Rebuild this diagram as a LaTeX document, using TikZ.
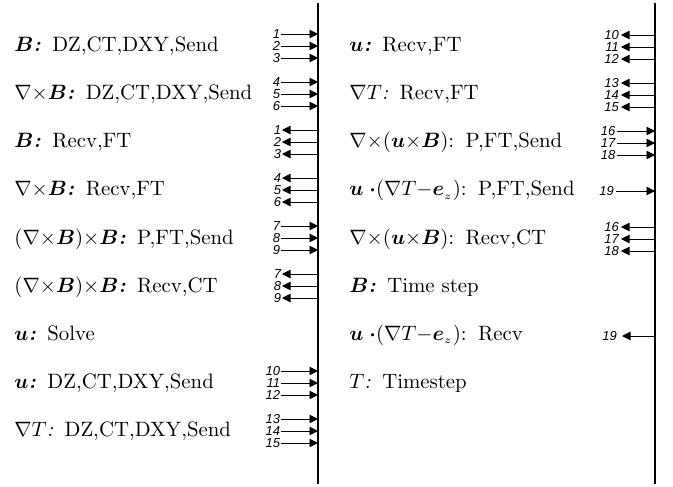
\documentclass[tikz,border=0pt]{standalone}
\usepackage{amsmath}
\usepackage{bm}
\usepackage{fontspec}
\newfontfamily\numfont{Liberation Sans}
\usetikzlibrary{arrows.meta}

% colon after a bold field name, and the gap before the step list
\newcommand\bcol{\textbf{\textit{:}}}
\newcommand\gap{\hspace{0.55em}}
\newcommand\ugrad{$\bm{u}\;{\bm\cdot}(\nabla T{-}\bm{e}_{\scriptscriptstyle z})$:}
\newcommand\curluB{$\nabla{\times}(\bm{u}{\times}\bm{B})$:}
\newcommand\jxB{$(\nabla{\times}\bm{B}){\times}\bm{B}$\bcol}

\begin{document}
\begin{tikzpicture}[x=1pt,y=-1pt,
  txt/.style={anchor=base west,inner sep=0pt,scale=2.08,font=\fontsize{10}{12}\selectfont},
  num/.style={anchor=east,inner sep=0.8pt,font=\numfont\itshape\fontsize{13}{14}\selectfont},
  arr/.style={line width=0.9pt,-{Triangle[length=8.5pt,width=8.5pt]}},
  bar/.style={line width=1.8pt}]
\useasboundingbox (0,0) rectangle (673,487);

% the two process time lines
\coordinate (Ltop) at (318,3);
\coordinate (Lbot) at (318,484);
\coordinate (Rtop) at (655,3);
\coordinate (Rbot) at (655,484);
\draw[bar] (Ltop) -- (Lbot);
\draw[bar,line width=1.5pt] (Rtop) -- (Rbot);

% left column of steps
\node[txt] (l1) at (14,52)  {$\bm{B}$\bcol\gap DZ,CT,DXY,Send};
\node[txt] (l2) at (14,100) {$\nabla{\times}\bm{B}$\bcol\gap DZ,CT,DXY,Send};
\node[txt] (l3) at (14,148) {$\bm{B}$\bcol\gap Recv,FT};
\node[txt] (l4) at (14,196) {$\nabla{\times}\bm{B}$\bcol\gap Recv,FT};
\node[txt] (l5) at (14,244) {\jxB\gap P,FT,Send};
\node[txt] (l6) at (14,292) {\jxB\gap Recv,CT};
\node[txt] (l7) at (14,340) {$\bm{u}$\bcol\gap Solve};
\node[txt] (l8) at (14,388) {$\bm{u}$\bcol\gap DZ,CT,DXY,Send};
\node[txt] (l9) at (14,436) {$\nabla T$\textit{:}\gap DZ,CT,DXY,Send};

% right column of steps
\node[txt] (r1) at (349,52)  {$\bm{u}$\bcol\gap Recv,FT};
\node[txt] (r2) at (349,100) {$\nabla T$\textit{:}\gap Recv,FT};
\node[txt] (r3) at (349,148) {\curluB\gap P,FT,Send};
\node[txt] (r4) at (349,196) {\ugrad\gap P,FT,Send};
\node[txt] (r5) at (349,244) {\curluB\gap Recv,CT};
\node[txt] (r6) at (349,292) {$\bm{B}$\bcol\gap Time step};
\node[txt] (r7) at (349,340) {\ugrad\gap Recv};
\node[txt] (r8) at (349,388) {$T$\textit{:}\gap Timestep};

% left: messages sent to the time line
\foreach \n/\y/\k in {1/34/a,2/46/b,3/58/c,4/82/d,5/94/e,6/106/f,
                      7/226/g,8/238/h,9/250/i,10/371/j,11/383/k,12/395/l,
                      13/419/m,14/431/n,15/443/o}{
  \node[num] (ls\k) at (281,\y) {\n};
  \coordinate (lsh\k) at (318,\y);
  \draw[arr] (ls\k) -- (lsh\k);
}
% left: messages received from the time line
\foreach \n/\y/\k in {1/130/a,2/142/b,3/154/c,4/178/d,5/190/e,6/202/f,
                      7/274/g,8/286/h,9/298/i}{
  \node[num] (lr\k) at (282,\y) {\n};
  \coordinate (lrh\k) at (318,\y);
  \draw[arr] (lrh\k) -- (lr\k);
}
% right: messages received from the time line
\foreach \n/\y/\k in {10/35/a,11/47/b,12/59/c,13/83/d,14/95/e,15/107/f,
                      16/227/g,17/239/h,18/251/i}{
  \node[num,inner sep=2pt] (rr\k) at (621,\y) {\n};
  \coordinate (rrh\k) at (655,\y);
  \draw[arr] (rrh\k) -- (rr\k);
}
% right: messages sent to the time line
\foreach \n/\y/\k in {16/131/a,17/143/b,18/155/c}{
  \node[num,inner sep=1.5pt] (rs\k) at (617,\y) {\n};
  \coordinate (rsh\k) at (655,\y);
  \draw[arr] (rs\k) -- (rsh\k);
}
\node[num,inner sep=2pt] (rs19) at (616,191) {19};
\coordinate (rsh19) at (655,191);
\draw[arr] (rs19) -- (rsh19);
\node[num,inner sep=5pt] (rr19) at (622,336) {19};
\coordinate (rrh19) at (655,336);
\draw[arr] (rrh19) -- (rr19);
\end{tikzpicture}
\end{document}
